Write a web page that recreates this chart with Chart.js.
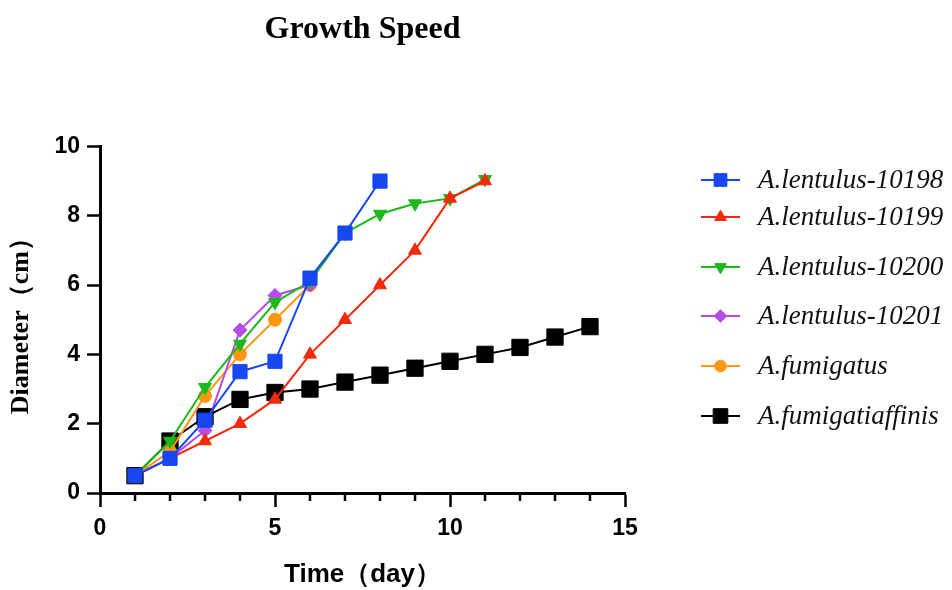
<!DOCTYPE html>
<html>
<head>
<meta charset="utf-8">
<script src="https://cdn.jsdelivr.net/npm/chart.js@4.4.1/dist/chart.umd.min.js"></script>
<style>
  html, body { margin: 0; padding: 0; background: #fff; }
  #wrap { width: 952px; height: 590px; position: relative; }
</style>
</head>
<body>
<div id="wrap"><canvas id="growthChart"></canvas></div>
<script>
// day numbers (x values), shared by all series
const days = [1, 2, 3, 4, 5, 6, 7, 8, 9, 10, 11, 12, 13, 14];

// diameters (cm), one array per strain
const lentulus10198   = [0.5, 1.0, 2.1, 3.5, 3.8, 6.2, 7.5, 9.0];
const lentulus10199   = [0.5, 1.0, 1.5, 2.0, 2.7, 4.0, 5.0, 6.0, 7.0, 8.5, 9.0];
const lentulus10200   = [0.5, 1.5, 3.05, 4.3, 5.5, 6.1, 7.5, 8.05, 8.35, 8.5, 9.05];
const lentulus10201   = [0.5, 1.0, 1.8, 4.7, 5.7, 6.0];
const fumigatus       = [0.5, 1.2, 2.8, 4.0, 5.0, 6.0];
const fumigatiaffinis = [0.5, 1.5, 2.2, 2.7, 2.9, 3.0, 3.2, 3.4, 3.6, 3.8, 4.0, 4.2, 4.5, 4.8];

const seriesNames = ['A.lentulus-10198', 'A.lentulus-10199', 'A.lentulus-10200',
                     'A.lentulus-10201', 'A.fumigatus', 'A.fumigatiaffinis'];

const xTicks = [0, 5, 10, 15];
const yTicks = [0, 2, 4, 6, 8, 10];

// pair each value with its day
function toPoints(values) {
    return values.map((v, i) => ({ x: days[i], y: v }));
}

// look of each series: colour + marker
const seriesStyles = [
    { color: '#1846f0', pointStyle: 'rect',     radius: 10, rotation: 0 },
    { color: '#f52a0a', pointStyle: 'triangle', radius: 7.5, rotation: 0 },
    { color: '#1cb81c', pointStyle: 'triangle', radius: 7.5, rotation: 180 },
    { color: '#b44ee6', pointStyle: 'rectRot',  radius: 7,  rotation: 0 },
    { color: '#ff9614', pointStyle: 'circle',   radius: 6.5, rotation: 0 },
    { color: '#000000', pointStyle: 'rect',     radius: 11.5, rotation: 0 }
];

const seriesValues = [lentulus10198, lentulus10199, lentulus10200,
                      lentulus10201, fumigatus, fumigatiaffinis];

const datasets = seriesValues.map((vals, i) => {
    const st = seriesStyles[i];
    return {
        label: seriesNames[i],
        data: toPoints(vals),
        borderColor: st.color,
        backgroundColor: st.color,
        borderWidth: 2,
        pointStyle: st.pointStyle,
        pointRadius: st.radius,
        pointRotation: st.rotation,
        pointBorderColor: st.color,
        pointBackgroundColor: st.color,
        pointBorderWidth: 1,
        tension: 0,
        fill: false
    };
});

// rows of the hand-drawn legend on the right
const legendRows = [180, 217, 267, 316, 366, 416];

const sideLegend = {
    id: 'sideLegend',
    afterDraw(chart) {
        const ctx = chart.ctx;
        ctx.save();
        chart.data.datasets.forEach((ds, i) => {
            const y = legendRows[i];
            ctx.strokeStyle = ds.borderColor;
            ctx.lineWidth = 2;
            ctx.beginPath();
            ctx.moveTo(701, y);
            ctx.lineTo(740, y);
            ctx.stroke();
            ctx.fillStyle = ds.pointBackgroundColor;
            ctx.strokeStyle = ds.pointBorderColor;
            ctx.lineWidth = 1;
            Chart.helpers.drawPoint(ctx, {
                pointStyle: ds.pointStyle,
                radius: ds.pointRadius * 0.9,
                rotation: ds.pointRotation,
                borderWidth: 1
            }, 720.5, y);
            ctx.fillStyle = '#111';
            ctx.font = 'italic 27px "Liberation Serif", "Times New Roman", serif';
            ctx.textAlign = 'left';
            ctx.textBaseline = 'middle';
            ctx.fillText(ds.label, 758, y + 1);
        });
        ctx.restore();
    }
};

// short ticks for every day between the labelled ones
const minorTicks = {
    id: 'minorTicks',
    afterDraw(chart) {
        const xs = chart.scales.x;
        const ctx = chart.ctx;
        const bottom = chart.chartArea.bottom;
        ctx.save();
        ctx.strokeStyle = '#000';
        ctx.lineWidth = 2.5;
        for (let d = 1; d < 15; d++) {
            if (d % 5 === 0) continue;
            const px = Math.round(xs.getPixelForValue(d));
            ctx.beginPath();
            ctx.moveTo(px, bottom);
            ctx.lineTo(px, bottom + 8);
            ctx.stroke();
        }
        ctx.restore();
    }
};

const ctx = document.getElementById('growthChart').getContext('2d');
new Chart(ctx, {
    type: 'line',
    data: { datasets: datasets },
    options: {
        responsive: true,
        maintainAspectRatio: false,
        animation: false,
        layout: { padding: { left: 0, right: 327, top: 0, bottom: 0 } },
        scales: {
            x: {
                type: 'linear',
                min: 0,
                max: 15,
                afterBuildTicks: (scale) => { scale.ticks = xTicks.map(v => ({ value: v })); },
                afterFit: (scale) => { scale.height = 97; },
                border: { color: '#000', width: 3 },
                grid: { drawOnChartArea: false, tickLength: 14, tickColor: '#000', tickWidth: 2.5 },
                ticks: {
                    color: '#000',
                    padding: 8,
                    font: { family: '"Liberation Sans", Arial, sans-serif', size: 23, weight: 'bold' }
                },
                title: {
                    display: true,
                    text: 'Time（day）',
                    color: '#000',
                    padding: { top: 8, bottom: 0 },
                    font: { family: '"Liberation Sans", Arial, sans-serif', size: 26, weight: 'bold' }
                }
            },
            y: {
                min: 0,
                max: 10,
                afterBuildTicks: (scale) => { scale.ticks = yTicks.map(v => ({ value: v })); },
                afterFit: (scale) => { scale.width = 100; },
                border: { color: '#000', width: 3 },
                grid: { drawOnChartArea: false, tickLength: 13, tickColor: '#000', tickWidth: 2.5 },
                ticks: {
                    color: '#000',
                    padding: 7,
                    font: { family: '"Liberation Sans", Arial, sans-serif', size: 23, weight: 'bold' }
                },
                title: {
                    display: true,
                    text: 'Diameter（cm）',
                    color: '#000',
                    padding: { top: 6, bottom: 0 },
                    font: { family: '"Liberation Serif", "Times New Roman", serif', size: 26, weight: 'bold' }
                }
            }
        },
        plugins: {
            legend: { display: false },
            tooltip: { enabled: false },
            title: {
                display: true,
                text: 'Growth Speed',
                color: '#000',
                fullSize: false,
                padding: { top: 11, bottom: 97 },
                font: { family: '"Liberation Serif", "Times New Roman", serif', size: 32, weight: 'bold' }
            }
        }
    },
    plugins: [sideLegend, minorTicks]
});
</script>
</body>
</html>
